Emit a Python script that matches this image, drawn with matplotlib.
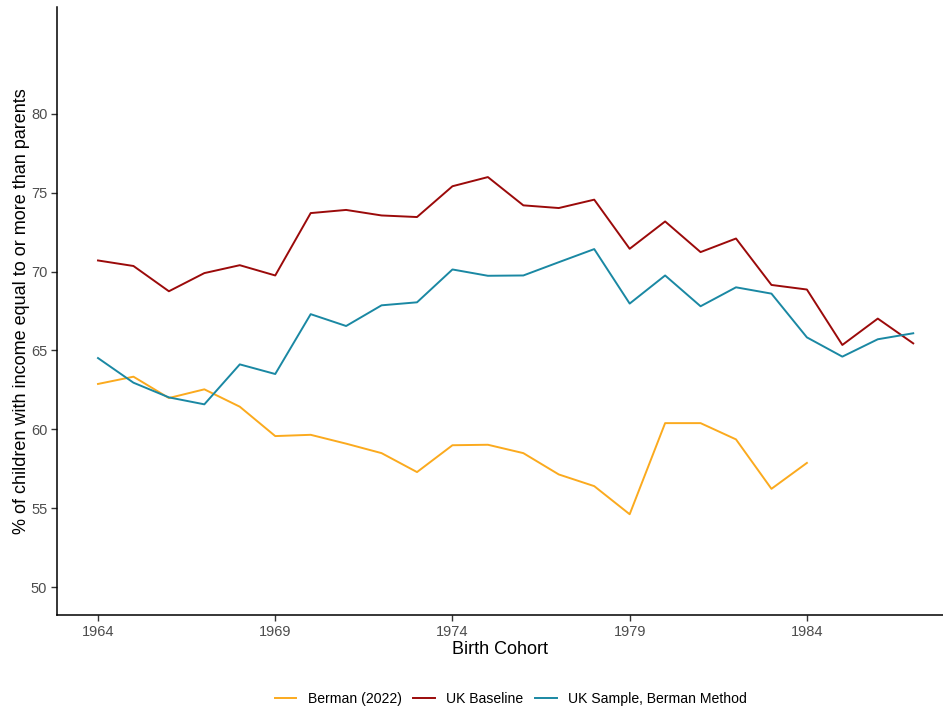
import numpy as np
import matplotlib
matplotlib.use("Agg")
import matplotlib.pyplot as plt

plt.rcParams["font.family"] = ["Liberation Sans", "DejaVu Sans"]

# ---------------- Data ----------------
years = list(range(1964, 1988))

uk_baseline = [70.7, 70.35, 68.75, 69.9, 70.4, 69.75, 73.7, 73.9, 73.55, 73.45,
               75.4, 75.98, 74.19, 74.02, 74.55, 71.44, 73.17, 71.23, 72.09, 69.15,
               68.86, 65.35, 67.02, 65.45]

uk_berman = [64.52, 62.96, 62.03, 61.59, 64.12, 63.51, 67.3, 66.55, 67.86, 68.05,
             70.13, 69.73, 69.75, 70.59, 71.42, 67.97, 69.75, 67.8, 69.0, 68.6,
             65.83, 64.61, 65.71, 66.09]

berman_years = list(range(1964, 1985))
berman_2022 = [62.88, 63.34, 61.99, 62.54, 61.44, 59.58, 59.66, 59.1, 58.5, 57.3,
               59.0, 59.03, 58.5, 57.15, 56.41, 54.63, 60.4, 60.4, 59.37, 56.24,
               57.88]

x_ticks = [1964, 1969, 1974, 1979, 1984]
y_ticks = [50, 55, 60, 65, 70, 75, 80]

COLORS = {"Berman (2022)": "#FBAA1E", "UK Baseline": "#9B0A0A",
          "UK Sample, Berman Method": "#1A88A3"}

# ---------------- Plot ----------------
fig = plt.figure(figsize=(9.43, 7.11), dpi=100)
ax = fig.add_axes([57 / 943, 96 / 711, 886 / 943, 608 / 711])

ax.plot(berman_years, berman_2022, color=COLORS["Berman (2022)"], lw=1.4,
        label="Berman (2022)")
ax.plot(years, uk_baseline, color=COLORS["UK Baseline"], lw=1.4,
        label="UK Baseline")
ax.plot(years, uk_berman, color=COLORS["UK Sample, Berman Method"], lw=1.4,
        label="UK Sample, Berman Method")

ax.set_xlim(1962.843, 1987.84)
ax.set_ylim(48.25, 86.75)
ax.set_xticks(x_ticks)
ax.set_yticks(y_ticks)

for side in ("top", "right"):
    ax.spines[side].set_visible(False)
for side in ("left", "bottom"):
    ax.spines[side].set_linewidth(1.1)
    ax.spines[side].set_color("black")

ax.tick_params(axis="both", direction="out", length=4, width=1.0,
               color="#333333", labelcolor="#4D4D4D", labelsize=10.5, pad=3)

ax.set_xlabel("Birth Cohort", fontsize=13, color="black", labelpad=2)
ax.set_ylabel("% of children with income equal to or more than parents",
              fontsize=13, color="black", labelpad=1)

leg = fig.legend(loc="center", bbox_to_anchor=(0.5419, 1 - 699 / 711), ncol=3,
                 frameon=False, fontsize=10.1, handlelength=1.5,
                 columnspacing=0.85, handletextpad=0.85)

fig.savefig("out.png", dpi=100)
